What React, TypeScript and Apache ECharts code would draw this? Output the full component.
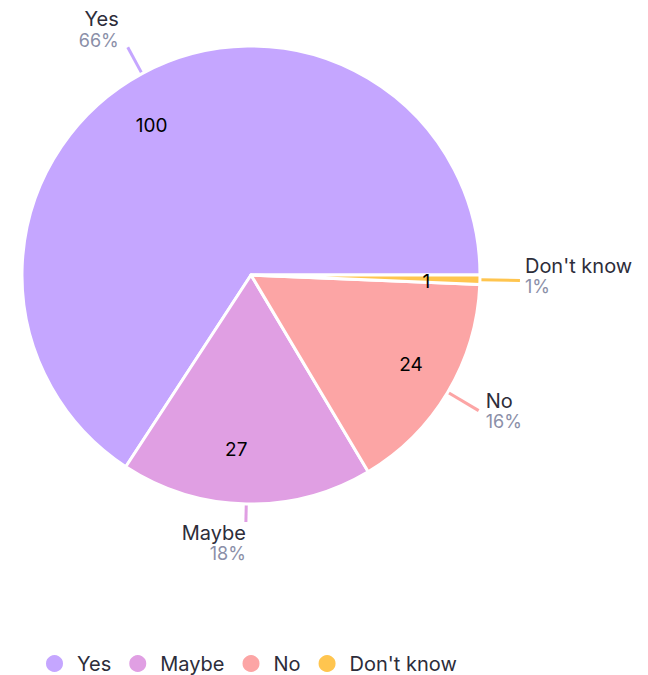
import React, { useEffect, useRef } from "react";
import * as echarts from "echarts";

const categories = ["Yes", "Maybe", "No", "Don't know"];
const values = [100, 27, 24, 1];
const colors = ["#c5a6ff", "#e09fe3", "#fca5a5", "#ffc54f"];

export default function App() {
  const ref = useRef<HTMLDivElement>(null);
  useEffect(() => {
    if (!ref.current) return;
    const chart = echarts.init(ref.current, null, { renderer: "svg" });
    const lineLen = [30, 18, 36, 40];
    const data = categories.map((name, i) => ({
      name,
      value: values[i],
      itemStyle: { color: colors[i] },
      labelLine: { length: lineLen[i], length2: 0 },
    }));
    const center = [251, 275];
    const labelDx = [-4, 5, 2, 0];
    const labelDy = [-18, 21, 0, -5];
    const innerDx = [-13, -11, 4, -6];
    const innerDy = [10, -7, -3, 3];
    const ff = "Inter, 'Noto Sans', sans-serif";
    chart.setOption({
      animation: false,
      textStyle: { fontFamily: ff },
      legend: {
        data: categories,
        top: 653,
        left: 44,
        padding: 0,
        icon: "circle",
        itemWidth: 19,
        itemHeight: 19,
        itemGap: 16,
        textStyle: {
          fontSize: 20,
          color: "#2d2d3a",
          fontFamily: ff,
          padding: [0, 0, 0, 8],
        },
      },
      series: [
        {
          type: "pie",
          center,
          radius: [0, 229],
          startAngle: 0,
          clockwise: false,
          data,
          itemStyle: { borderColor: "#ffffff", borderWidth: 3 },
          label: {
            show: true,
            position: "outside",
            overflow: "none",
            formatter: (p: any) => `{n|${p.name}}\n{p|${Math.round(p.percent)}%}`,
            rich: {
              n: { fontSize: 20, color: "#2d2d3a", fontFamily: ff, lineHeight: 22 },
              p: { fontSize: 18, color: "#8b8fa8", fontFamily: ff, lineHeight: 20 },
            },
          },
          labelLine: {
            show: true,
            length: 30,
            length2: 0,
            smooth: false,
            lineStyle: { width: 3 },
          },
          labelLayout: (params: any) => ({
            dx: labelDx[params.dataIndex] || 0,
            dy: labelDy[params.dataIndex] || 0,
          }),
        },
        {
          type: "pie",
          center,
          radius: [128, 229],
          startAngle: 0,
          clockwise: false,
          silent: true,
          data: categories.map((name, i) => ({ name, value: values[i] })),
          itemStyle: { color: "transparent", borderWidth: 0 },
          label: {
            show: true,
            position: "inside",
            formatter: (p: any) => `${p.value}`,
            fontSize: 19,
            color: "#000000",
            fontFamily: ff,
          },
          labelLine: { show: false },
          labelLayout: (params: any) => ({
            dx: innerDx[params.dataIndex] || 0,
            dy: innerDy[params.dataIndex] || 0,
          }),
          emphasis: { disabled: true },
        },
      ],
    });
    return () => chart.dispose();
  }, []);
  return (
    <div
      ref={ref}
      style={{ position: "absolute", left: 0, top: 0, width: 648, height: 675 }}
    />
  );
}
